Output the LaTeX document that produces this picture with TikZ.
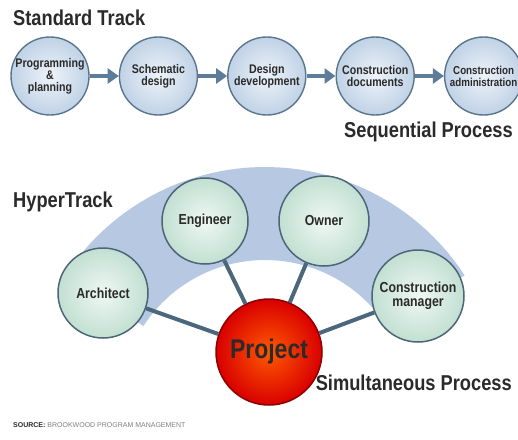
\documentclass[tikz,border=0pt]{standalone}
\usepackage{fontspec}
\setmainfont{Liberation Sans}
\newfontfamily\condensed{Liberation Sans}[FakeStretch=0.85]
\usetikzlibrary{positioning, arrows.meta}

\definecolor{ink}{HTML}{2A2A2A}
\definecolor{bandblue}{HTML}{B7C9E2}
\definecolor{stageline}{HTML}{5A768D}
\definecolor{stagein}{HTML}{EEF3F9}
\definecolor{stageout}{HTML}{C0D2E6}
\definecolor{partyline}{HTML}{4C6677}
\definecolor{partyin}{HTML}{EFF8F3}
\definecolor{partyout}{HTML}{C2DFD2}
\definecolor{linkblue}{HTML}{4B677D}
\definecolor{arrowblue}{HTML}{5C7C97}

\begin{document}
\begin{tikzpicture}[x=1pt,y=-1pt,node distance=29pt]
    \tikzstyle{stage} = [circle,minimum size=78pt,inner sep=0pt,draw=stageline,line width=1.4pt,inner color=stagein,outer color=stageout,align=center,text=ink,font=\condensed\bfseries\fontsize{12.5pt}{12pt}\selectfont]
    \tikzstyle{party} = [circle,minimum size=88pt,inner sep=0pt,draw=partyline,line width=1.5pt,inner color=partyin,outer color=partyout,align=center,text=ink,font=\condensed\bfseries\fontsize{14.5pt}{14pt}\selectfont]
    \tikzstyle{title} = [inner sep=0pt,text=ink,font=\condensed\bfseries\fontsize{21.5pt}{24pt}\selectfont]
    \tikzstyle{flow} = [draw=arrowblue,line width=4pt,-{Triangle[length=11pt,width=15pt]}]
    \tikzstyle{link} = [draw=linkblue,line width=4pt]

    \fill [white] (0,0) rectangle (518,439);
    \useasboundingbox (0,0) rectangle (518,439);

    % standard track
    \node (std) [title,anchor=base west] at (13,25) {Standard Track};

    \node (prog) [stage] at (50,76) {Programming\\\&\\planning};
    \node (schem) [stage,right=of prog] {Schematic\\design};
    \node (dev) [stage,right=of schem] {Design\\development};
    \node (docs) [stage,right=of dev] {Construction\\documents};
    \node (admin) [stage,right=of docs,font=\condensed\bfseries\fontsize{11.5pt}{12pt}\selectfont] {Construction\\administration};

    \draw [flow] (prog) -- (schem);
    \draw [flow] (schem) -- (dev);
    \draw [flow] (dev) -- (docs);
    \draw [flow] (docs) -- (admin);

    \node (seq) [title,anchor=base east] at (513,137) {Sequential Process};

    % hypertrack
    \node (hyper) [title,anchor=base west] at (13,207) {HyperTrack};

    \fill [bandblue] plot [domain=33:147,samples=50] ({265+238*cos(\x)},{405-238*sin(\x)})
        -- plot [domain=147:33,samples=50] ({265+145*cos(\x)},{405-145*sin(\x)}) -- cycle;

    \node (arch) [party,minimum size=90pt] at (103,293) {Architect};
    \node (eng) [party,minimum size=86pt] at (205,221) {Engineer};
    \node (own) [party,minimum size=90pt] at (324,221) {Owner};
    \node (cm) [party,minimum size=92pt] at (418,296) {Construction\\manager};

    \node (proj) [circle,minimum size=106pt,inner sep=0pt,draw=red!55!black,line width=1.5pt,inner color=orange!70!red,outer color=red!85!black,text=ink,font=\condensed\bfseries\fontsize{27pt}{27pt}\selectfont] at (269,352) {Project};

    \draw [link] (arch) -- (proj);
    \draw [link] (eng) -- (proj);
    \draw [link] (own) -- (proj);
    \draw [link] (cm) -- (proj);

    \node (simul) [title,anchor=base east] at (512,390) {Simultaneous Process};

    \node (source) [anchor=base west,inner sep=0pt,text=gray,font=\fontsize{7pt}{7pt}\selectfont] at (13,427) {\textcolor{ink}{\bfseries SOURCE:} BROOKWOOD PROGRAM MANAGEMENT};
\end{tikzpicture}
\end{document}
